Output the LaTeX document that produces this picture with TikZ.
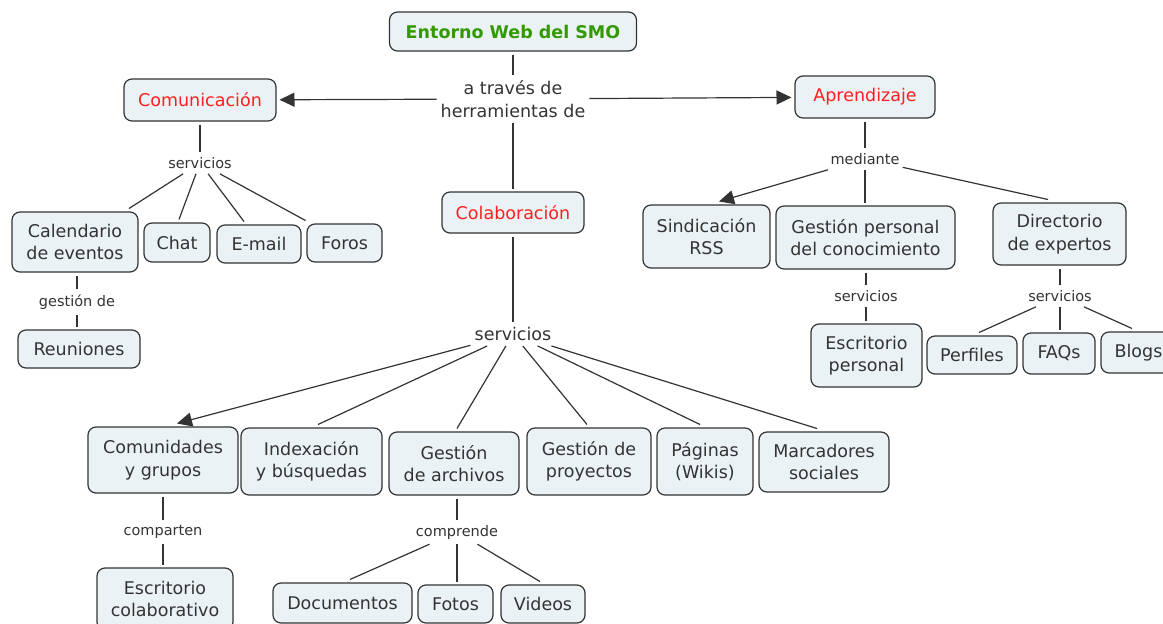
\documentclass[tikz,border=0pt]{standalone}
\usepackage{fontspec}
\setmainfont{DejaVu Sans}
\usetikzlibrary{arrows.meta}
\definecolor{boxfill}{HTML}{EBF2F5}
\definecolor{edge}{HTML}{333333}
\definecolor{txt}{HTML}{333333}
\definecolor{titlegreen}{HTML}{339900}
\definecolor{catred}{HTML}{FF1F1F}
\newcommand{\bigfont}{\fontsize{17.5}{22.5}\selectfont}
\newcommand{\smallfont}{\fontsize{14.5}{17}\selectfont}
\begin{document}
\begin{tikzpicture}[x=1pt,y=-1pt,
 box/.style={draw=edge, fill=boxfill, rounded corners=8pt, line width=1.2pt, align=center, font=\bigfont, text=txt, inner sep=0pt, outer sep=3.5pt},
 lbl/.style={font=\smallfont, text=txt, inner xsep=3pt, inner ysep=5pt},
 biglbl/.style={font=\bigfont, text=txt, align=center, inner xsep=4pt, inner ysep=5pt},
 conn/.style={draw=edge, line width=1.2pt},
 arr/.style={conn, -{Triangle[length=15pt,width=14pt]}}]

\useasboundingbox (0,0) rectangle (1163,624);
\fill[white] (0,0) rectangle (1163,624);
\clip (0,0) rectangle (1163,624);

% nodes
\node[box, minimum width=247pt, minimum height=39pt, font={\bigfont\bfseries}, text=titlegreen] (entorno) at (513,31.5) {Entorno Web del SMO};
\node[biglbl] (atraves) at (513,99) {a través de\\herramientas de};
\node[box, minimum width=152pt, minimum height=42pt, text=catred] (comunic) at (200,100) {Comunicación};
\node[box, minimum width=140pt, minimum height=42pt, text=catred] (aprend) at (865,97) {Aprendizaje};
\node[box, minimum width=142pt, minimum height=41pt, text=catred] (colab) at (513,212.5) {Colaboración};

\node[lbl] (servA) at (200,163) {servicios};
\node[box, minimum width=126pt, minimum height=60pt] (cal) at (75,242) {Calendario\\de eventos};
\node[box, minimum width=66pt, minimum height=39pt] (chat) at (177,242.5) {Chat};
\node[box, minimum width=84pt, minimum height=38pt] (email) at (259,244) {E-mail};
\node[box, minimum width=75pt, minimum height=38pt] (foros) at (344.5,243) {Foros};
\node[lbl] (gestde) at (77,302) {gestión de};
\node[box, minimum width=122pt, minimum height=38pt] (reun) at (79,349) {Reuniones};

\node[biglbl] (servB) at (513,334) {servicios};
\node[box, minimum width=150pt, minimum height=66pt] (comun) at (163,460) {Comunidades\\y grupos};
\node[box, minimum width=141pt, minimum height=67pt] (index) at (311.5,461.5) {Indexación\\y búsquedas};
\node[box, minimum width=130pt, minimum height=63pt] (garch) at (454,463.5) {Gestión\\de archivos};
\node[box, minimum width=124pt, minimum height=67pt] (gproy) at (589,461.5) {Gestión de\\proyectos};
\node[box, minimum width=96pt, minimum height=67pt] (pag) at (705,461.5) {Páginas\\(Wikis)};
\node[box, minimum width=130pt, minimum height=60pt] (marc) at (824,462) {Marcadores\\sociales};
\node[lbl] (compar) at (163,532) {comparten};
\node[box, minimum width=136pt, minimum height=62pt] (escol) at (165,599) {Escritorio\\colaborativo};
\node[lbl] (compren) at (457,532) {comprende};
\node[box, minimum width=139pt, minimum height=40pt] (docs) at (342.5,603) {Documentos};
\node[box, minimum width=75pt, minimum height=38pt] (fotos) at (455.5,604) {Fotos};
\node[box, minimum width=84pt, minimum height=38pt] (videos) at (543,604) {Videos};

\node[lbl] (mediante) at (865,159) {mediante};
\node[box, minimum width=127pt, minimum height=63pt] (sind) at (706.5,236.5) {Sindicación\\RSS};
\node[box, minimum width=179pt, minimum height=63pt] (gpc) at (865.5,237.5) {Gestión personal\\del conocimiento};
\node[box, minimum width=133pt, minimum height=62pt] (dir) at (1059.5,234) {Directorio\\de expertos};
\node[lbl] (servC) at (866,296) {servicios};
\node[box, minimum width=111pt, minimum height=63pt] (espers) at (866.5,355.5) {Escritorio\\personal};
\node[lbl] (servD) at (1060,296) {servicios};
\node[box, minimum width=90pt, minimum height=38pt] (perf) at (972,355) {Perfiles};
\node[box, minimum width=72pt, minimum height=41pt] (faqs) at (1059,353.5) {FAQs};
\node[box, minimum width=75pt, minimum height=41pt] (blogs) at (1138.5,352.5) {Blogs};

% connectors
\draw[conn] (entorno) -- (atraves);
\draw[arr] (atraves) -- (comunic);
\draw[arr] (atraves) -- (aprend);
\draw[conn] (atraves) -- (colab);

\draw[conn] (comunic) -- (servA);
\draw[conn] (servA) -- ([xshift=54pt]cal.north);
\draw[conn] (servA) -- ([xshift=2pt]chat.north);
\draw[conn] (servA) -- ([xshift=-15pt]email.north);
\draw[conn] (servA) -- ([xshift=-39pt]foros.north);
\draw[conn] (gestde) -- (gestde |- cal.south);
\draw[conn] (gestde) -- (gestde |- reun.north);

\draw[conn] (colab) -- (servB);
\draw[arr] (servB) -- ([xshift=14pt]comun.north);
\draw[conn] (servB) -- ([xshift=6.5pt]index.north);
\draw[conn] (servB) -- ([xshift=3pt]garch.north);
\draw[conn] (servB) -- ([xshift=-2pt]gproy.north);
\draw[conn] (servB) -- ([xshift=-5pt]pag.north);
\draw[conn] (servB) -- ([xshift=-7pt]marc.north);
\draw[conn] (compar) -- (compar |- comun.south);
\draw[conn] (compar) -- (compar |- escol.north);
\draw[conn] (compren) -- (compren |- garch.south);
\draw[conn] (compren) -- ([xshift=7.5pt]docs.north);
\draw[conn] (compren) -- (compren |- fotos.north);
\draw[conn] (compren) -- ([xshift=-3pt]videos.north);

\draw[conn] (aprend) -- (mediante);
\draw[arr] (mediante) -- ([xshift=12.5pt]sind.north);
\draw[conn] (mediante) -- (mediante |- gpc.north);
\draw[conn] (mediante) -- ([xshift=-11.5pt]dir.north);
\draw[conn] (servC) -- (servC |- gpc.south);
\draw[conn] (servC) -- (servC |- espers.north);
\draw[conn] (servD) -- (servD |- dir.south);
\draw[conn] (servD) -- ([xshift=7pt]perf.north);
\draw[conn] (servD) -- (servD |- faqs.north);
\draw[conn] (servD) -- ([xshift=-6.5pt]blogs.north);
\end{tikzpicture}
\end{document}
